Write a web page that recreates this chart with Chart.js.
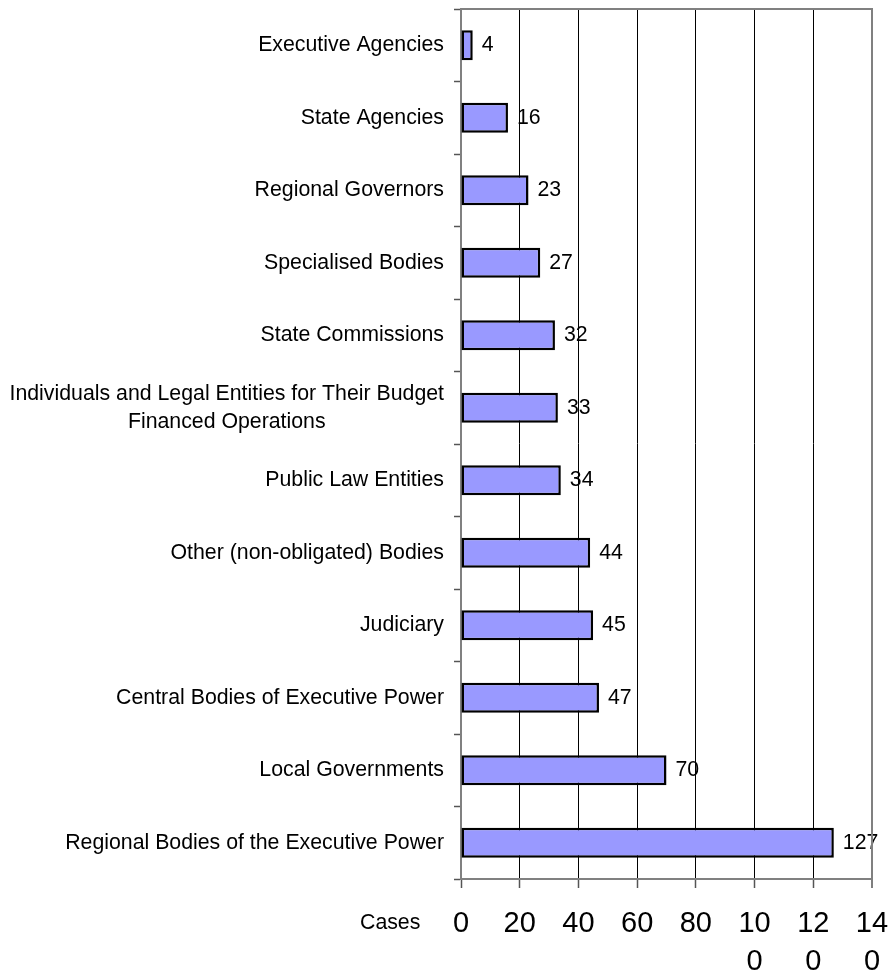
<!DOCTYPE html>
<html>
<head>
<meta charset="utf-8">
<script src="https://cdn.jsdelivr.net/npm/chart.js@4.4.1/dist/chart.umd.min.js"></script>
<style>
  html, body { margin: 0; padding: 0; background: #ffffff; }
  #wrap { width: 893px; height: 976px; position: relative; }
</style>
</head>
<body>
<div id="wrap"><canvas id="chart"></canvas></div>
<script>
// categories, top to bottom
const categories = [
  ["Executive Agencies"],
  ["State Agencies"],
  ["Regional Governors"],
  ["Specialised Bodies"],
  ["State Commissions"],
  ["Individuals and Legal Entities for Their Budget", "Financed Operations"],
  ["Public Law Entities"],
  ["Other (non-obligated) Bodies"],
  ["Judiciary"],
  ["Central Bodies of Executive Power"],
  ["Local Governments"],
  ["Regional Bodies of the Executive Power"]
];
const cases = [4, 16, 23, 27, 32, 33, 34, 44, 45, 47, 70, 127];
const xTicks = ["0", "20", "40", "60", "80", "10\n0", "12\n0", "14\n0"];
const axisTitle = "Cases";

const FONT = "'Liberation Sans', Arial, sans-serif";
const AXIS_GRAY = "#808080";

// labels drawn before the scales so the grid lines run over them
const labelsPlugin = {
  id: "labels",
  beforeDraw(chart) {
    const ctx = chart.ctx;
    const area = chart.chartArea;
    const yScale = chart.scales.y;
    const meta = chart.getDatasetMeta(0);
    ctx.save();
    ctx.fillStyle = "#000";
    ctx.font = "21.3px " + FONT;
    ctx.textBaseline = "middle";

    // category labels, right edge aligned, multi-line blocks centred
    categories.forEach((lines, i) => {
      const yc = yScale.getPixelForValue(i);
      const widths = lines.map((l) => ctx.measureText(l).width);
      const blockW = Math.max(...widths);
      const right = area.left - 17;
      const lh = 28;
      const y0 = yc - ((lines.length - 1) * lh) / 2;
      ctx.textAlign = "center";
      lines.forEach((l, k) => {
        ctx.fillText(l, right - blockW / 2, y0 + k * lh);
      });
    });

    // value labels
    ctx.textAlign = "left";
    meta.data.forEach((bar, i) => {
      ctx.fillText(String(cases[i]), bar.x + 9, bar.y);
    });

    // axis title
    ctx.fillText(axisTitle, 360, 923);
    ctx.restore();
  },
  beforeDatasetsDraw(chart) {
    // grey frame top / right
    const ctx = chart.ctx;
    const a = chart.chartArea;
    ctx.save();
    ctx.strokeStyle = AXIS_GRAY;
    ctx.lineWidth = 2;
    ctx.beginPath();
    ctx.moveTo(a.left, a.top);
    ctx.lineTo(a.right, a.top);
    ctx.lineTo(a.right, a.bottom);
    ctx.stroke();
    ctx.restore();
  }
};

new Chart(document.getElementById("chart"), {
  type: "bar",
  data: {
    labels: categories.map((c) => c.join(" ")),
    datasets: [
      {
        data: cases,
        backgroundColor: "#9999ff",
        borderColor: "#000000",
        borderWidth: 2.5,
        borderSkipped: false,
        barPercentage: 0.5,
        categoryPercentage: 0.83
      }
    ]
  },
  plugins: [labelsPlugin],
  options: {
    indexAxis: "y",
    responsive: true,
    maintainAspectRatio: false,
    animation: false,
    layout: { padding: { top: 9, right: 21, left: 0, bottom: 0 } },
    plugins: {
      legend: { display: false },
      tooltip: { enabled: false }
    },
    scales: {
      x: {
        min: 0,
        max: 140,
        afterFit: (scale) => {
          scale.height = 97;
          scale.paddingLeft = 0;
          scale.paddingRight = 0;
        },
        afterBuildTicks: (scale) => {
          scale.ticks = xTicks.map((t, i) => ({ value: i * 20 }));
        },
        ticks: {
          autoSkip: false,
          maxRotation: 0,
          padding: 17,
          color: "#000",
          font: { family: FONT, size: 29, lineHeight: 1.32 },
          callback: (v, i) => xTicks[i].split("\n")
        },
        grid: {
          color: (c) => (c.index === xTicks.length - 1 ? AXIS_GRAY : "#000000"),
          lineWidth: (c) => (c.index === xTicks.length - 1 ? 2 : 1),
          tickColor: "#555555",
          tickWidth: 1.5,
          tickLength: 9,
          drawTicks: true
        },
        border: { color: AXIS_GRAY, width: 2 }
      },
      y: {
        afterFit: (scale) => {
          scale.width = 461;
          scale.paddingTop = 0;
          scale.paddingBottom = 0;
        },
        ticks: {
          color: "rgba(0,0,0,0)",
          font: { family: FONT, size: 20 }
        },
        grid: {
          offset: true,
          drawOnChartArea: false,
          tickColor: "#555555",
          tickWidth: 1.5,
          tickLength: 7,
          lineWidth: 1
        },
        border: { color: AXIS_GRAY, width: 2 }
      }
    }
  }
});
</script>
</body>
</html>
